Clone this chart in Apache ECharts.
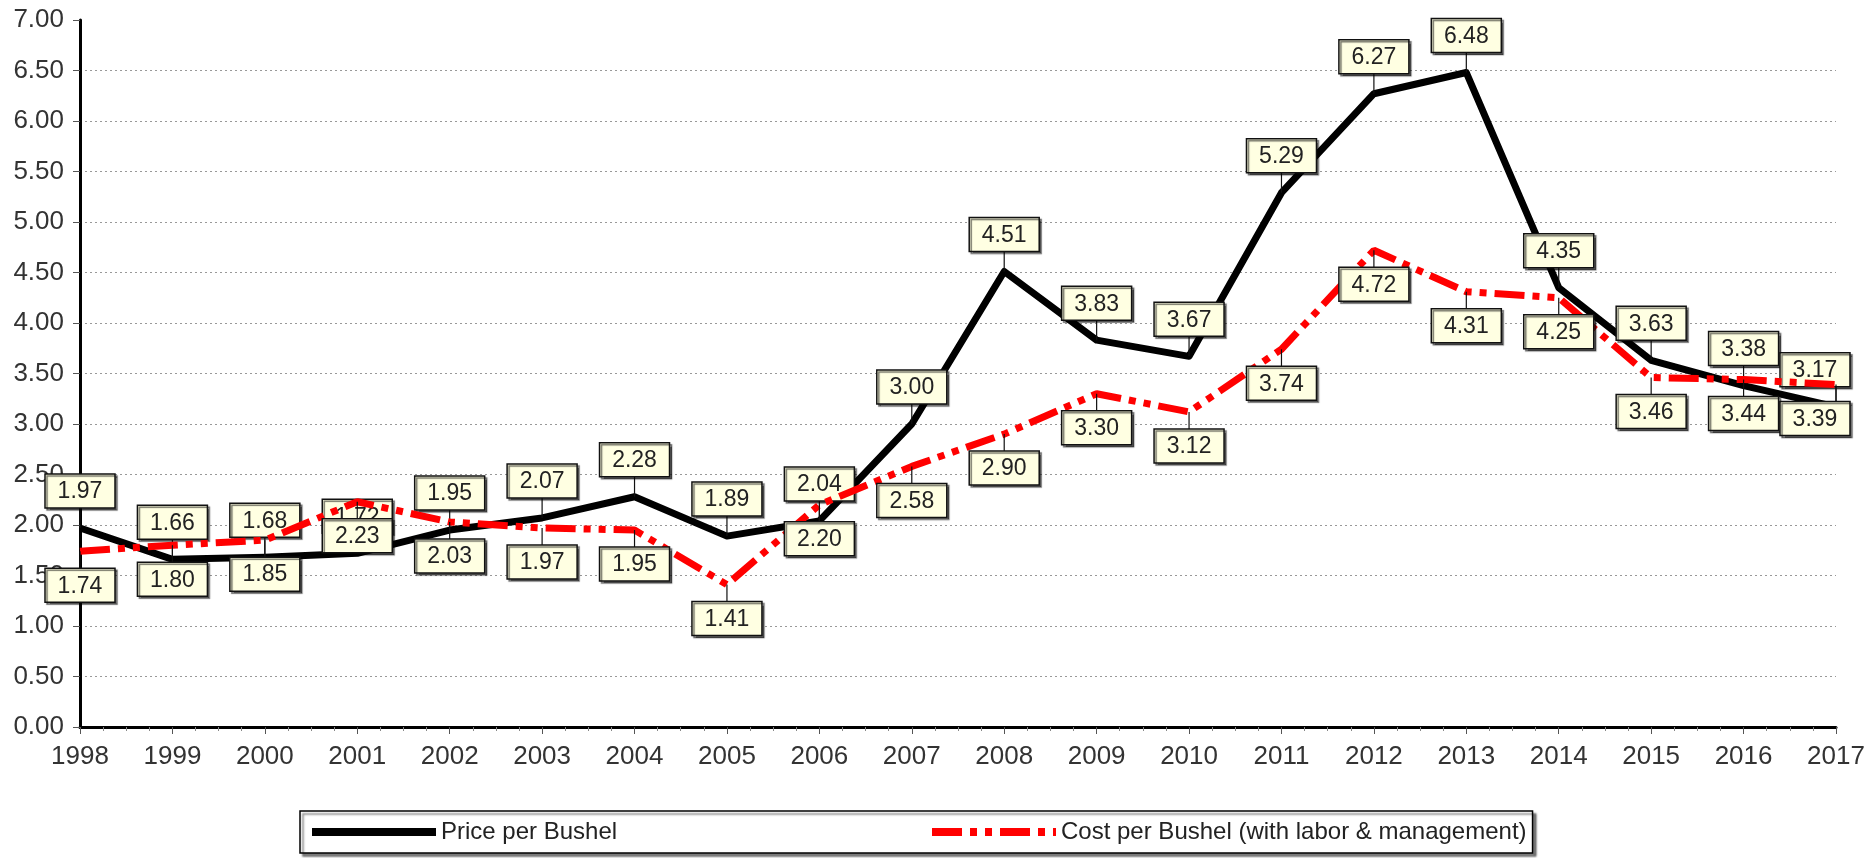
<!DOCTYPE html>
<html>
<head>
<meta charset="utf-8">
<script src="https://cdn.jsdelivr.net/npm/echarts@6/dist/echarts.min.js"></script>
<style>html,body{margin:0;padding:0;background:#fff}#c{width:1870px;height:858px}</style>
</head>
<body>
<div id="c"></div>
<script>
const years = [1998,1999,2000,2001,2002,2003,2004,2005,2006,2007,2008,2009,2010,2011,2012,2013,2014,2015,2016,2017];
const pricePerBushel = [1.97,1.66,1.68,1.72,1.95,2.07,2.28,1.89,2.04,3.00,4.51,3.83,3.67,5.29,6.27,6.48,4.35,3.63,3.38,3.17];
const costPerBushel = [1.74,1.80,1.85,2.23,2.03,1.97,1.95,1.41,2.20,2.58,2.90,3.30,3.12,3.74,4.72,4.31,4.25,3.46,3.44,3.39];
const seriesNames = ['Price per Bushel', 'Cost per Bushel (with labor & management)'];

const FF = '"Liberation Sans", Arial';
const axisFS = 26;
const legendFS = 24;
const boxFS = 23;

function textW(t, fs) {
  const c = document.createElement('canvas').getContext('2d');
  c.font = fs + 'px ' + FF;
  return c.measureText(t).width;
}

const pairs = arr => years.map((y, i) => [y, arr[i]]);

function labelSeries(vals, above, z) {
  return {
    type: 'custom',
    z: z,
    clip: false,
    silent: true,
    data: pairs(vals),
    renderItem: function (params, api) {
      const v = api.value(1);
      const p = api.coord([api.value(0), v]);
      const cs = params.coordSys;
      const w = 70, h = 34;
      const cx = Math.min(p[0], cs.x + cs.width - 21);
      const gap = above ? 20 : 17;
      const top = above ? p[1] - gap - h : p[1] + gap;
      const lineEnd = above ? p[1] - gap : p[1] + gap;
      return {
        type: 'group',
        children: [
          { type: 'line', shape: { x1: p[0], y1: p[1], x2: p[0], y2: lineEnd }, style: { stroke: '#111', lineWidth: 1.2 } },
          { type: 'rect', shape: { x: cx - w / 2, y: top, width: w, height: h },
            style: { fill: '#FFFFE2', stroke: '#111', lineWidth: 1.5, shadowColor: 'rgba(0,0,0,0.55)', shadowOffsetX: 2, shadowOffsetY: 2, shadowBlur: 1 } },
          { type: 'text', style: { text: v.toFixed(2), x: cx, y: top + h / 2 + 1, align: 'center', verticalAlign: 'middle',
            fontSize: boxFS, fontFamily: FF, fill: '#222' } }
        ]
      };
    }
  };
}

const redDash = [30, 8, 7, 8, 7, 8];
const tw1 = textW(seriesNames[0], legendFS);
const legendGap = Math.max(10, 924 - (437 + tw1));

const chart = echarts.init(document.getElementById('c'), null, { renderer: 'canvas' });
chart.setOption({
  backgroundColor: '#fff',
  animation: false,
  grid: { left: 80, right: 34, top: 20, bottom: 131 },
  xAxis: {
    type: 'value', min: 1998, max: 2017, interval: 1,
    axisLine: { show: true, onZero: false, lineStyle: { color: '#000', width: 3 } },
    axisTick: { show: true, length: 7, lineStyle: { color: '#555', width: 1 } },
    minorTick: { show: true, splitNumber: 4, length: 4, lineStyle: { color: '#888', width: 1 } },
    axisLabel: { formatter: v => String(v), fontFamily: FF, fontSize: axisFS, color: '#333', margin: 17 },
    splitLine: { show: false }
  },
  yAxis: {
    type: 'value', min: 0, max: 7, interval: 0.5,
    axisLine: { show: true, onZero: false, lineStyle: { color: '#000', width: 3 } },
    axisTick: { show: true, length: 7, lineStyle: { color: '#555', width: 1 } },
    axisLabel: { formatter: v => v.toFixed(2), fontFamily: FF, fontSize: axisFS, color: '#333', margin: 16 },
    splitLine: { show: true, showMaxLine: false, lineStyle: { type: [2, 3], color: '#999', width: 1 } }
  },
  legend: {
    left: 300, top: 811, orient: 'horizontal',
    padding: [9, 6, 9, 8],
    itemWidth: 124, itemHeight: 12, itemGap: legendGap,
    borderColor: '#000', borderWidth: 1.5, backgroundColor: '#fff',
    shadowColor: 'rgba(0,0,0,0.5)', shadowOffsetX: 3, shadowOffsetY: 3, shadowBlur: 2,
    textStyle: { fontFamily: FF, fontSize: legendFS, color: '#222' },
    selectedMode: false,
    data: [
      { name: seriesNames[0], itemStyle: { opacity: 0 }, lineStyle: { color: '#000', width: 8, type: 'solid' } },
      { name: seriesNames[1], itemStyle: { opacity: 0 }, lineStyle: { color: '#ff0000', width: 8, type: redDash } }
    ]
  },
  series: [
    { name: seriesNames[0], type: 'line', z: 2, symbol: 'none', data: pairs(pricePerBushel),
      lineStyle: { color: '#000', width: 7, join: 'round' }, itemStyle: { color: '#000' } },
    labelSeries(pricePerBushel, true, 3),
    { name: seriesNames[1], type: 'line', z: 4, symbol: 'none', data: pairs(costPerBushel),
      lineStyle: { color: '#ff0000', width: 7, type: redDash, cap: 'butt' }, itemStyle: { color: '#ff0000' } },
    labelSeries(costPerBushel, false, 5)
  ]
});
</script>
</body>
</html>
